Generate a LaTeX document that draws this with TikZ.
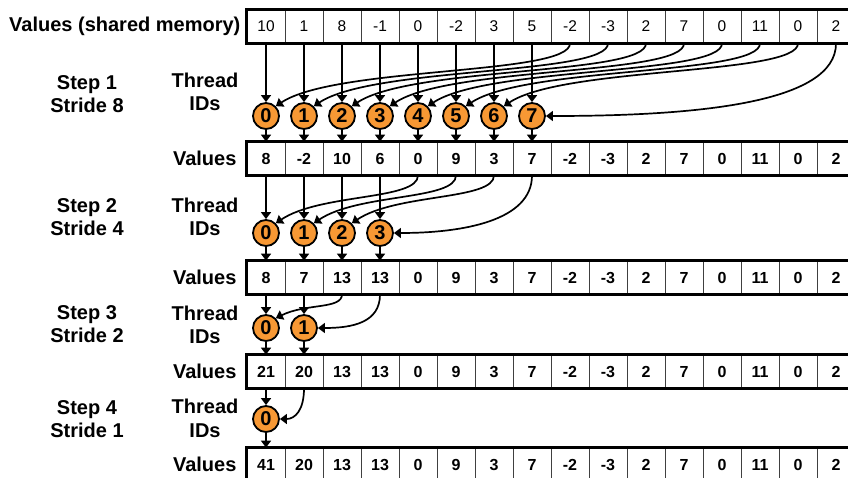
\documentclass[tikz,border=0pt]{standalone}
\usepackage{fontspec}
\setmainfont{Liberation Sans}
\usepackage{xcolor}
\usepackage{tikz}
\usetikzlibrary{arrows.meta, positioning}

\definecolor{thrd}{RGB}{247,152,52}

\begin{document}
\begin{tikzpicture}[
        x=1pt, y=-1pt,
        cell/.style={rectangle, draw=black!75, line width=0.8pt, minimum width=38pt, minimum height=33pt, inner sep=0pt, font=\fontsize{16}{16}\selectfont\bfseries},
        mem/.style={cell, font=\fontsize{15.5}{16}\selectfont},
        rowframe/.style={line width=2.6pt},
        thread/.style={circle, draw=black, line width=1.8pt, fill=thrd, minimum size=26pt, inner sep=0pt, font=\fontsize{20}{20}\selectfont\bfseries},
        txt/.style={font=\fontsize{20}{23.5}\selectfont\bfseries, align=center, inner sep=0pt},
        arrow/.style={-{Triangle[length=7pt, width=10pt]}, line width=1.7pt}
    ]
        \useasboundingbox (0,0) rectangle (848,477);

        % Value rows
        \foreach \v [count=\i from 0] in {10,1,8,-1,0,-2,3,5,-2,-3,2,7,0,11,0,2}
            \node[mem] (v0-\i) at (266+38*\i, 26.5) {\v};
        \foreach \v [count=\i from 0] in {8,-2,10,6,0,9,3,7,-2,-3,2,7,0,11,0,2}
            \node[cell] (v1-\i) at (266+38*\i, 158.5) {\v};
        \foreach \v [count=\i from 0] in {8,7,13,13,0,9,3,7,-2,-3,2,7,0,11,0,2}
            \node[cell] (v2-\i) at (266+38*\i, 277.5) {\v};
        \foreach \v [count=\i from 0] in {21,20,13,13,0,9,3,7,-2,-3,2,7,0,11,0,2}
            \node[cell] (v3-\i) at (266+38*\i, 371.5) {\v};
        \foreach \v [count=\i from 0] in {41,20,13,13,0,9,3,7,-2,-3,2,7,0,11,0,2}
            \node[cell] (v4-\i) at (266+38*\i, 464.5) {\v};
        \foreach \r in {0,...,4}
            \draw[rowframe] (v\r-0.north west) rectangle (v\r-15.south east);

        % Thread IDs
        \foreach \i in {0,...,7}
            \node[thread] (t1-\i) at (266+38*\i, 116) {\i};
        \foreach \i in {0,...,3}
            \node[thread] (t2-\i) at (266+38*\i, 233) {\i};
        \foreach \i in {0,1}
            \node[thread] (t3-\i) at (266+38*\i, 328) {\i};
        \node[thread] (t4-0) at (266, 419) {0};

        % Labels
        \node[txt, left=6pt of v0-0] (mlab) {Values (shared memory)};
        \foreach \r in {1,...,4}
            \node[txt, left=10pt of v\r-0] (vlab\r) {Values};
        \node[txt] (step1) at (87, 94) {Step 1\\Stride 8};
        \node[txt] (step2) at (87, 217) {Step 2\\Stride 4};
        \node[txt] (step3) at (87, 324) {Step 3\\Stride 2};
        \node[txt] (step4) at (87, 419) {Step 4\\Stride 1};
        \node[txt] (tid1) at (205, 92) {Thread\\IDs};
        \node[txt] (tid2) at (205, 217) {Thread\\IDs};
        \node[txt] (tid3) at (205, 325) {Thread\\IDs};
        \node[txt] (tid4) at (205, 418.5) {Thread\\IDs};

        % Step 1
        \foreach \i in {0,...,7}
            \draw[arrow] (v0-\i.south) -- (t1-\i.north);
        \foreach \i [evaluate=\i as \j using int(\i+8)] in {0,...,6}
            \draw[arrow] (v0-\j.south) .. controls +(0,32) and +(60,-40) .. (t1-\i.north east);
        \draw[arrow] (v0-15.south) .. controls +(0,60) and +(150,0) .. (t1-7.east);
        \foreach \i in {0,...,7}
            \draw[arrow] (t1-\i.south) -- (v1-\i.north);

        % Step 2
        \foreach \i in {0,...,3}
            \draw[arrow] (v1-\i.south) -- (t2-\i.north);
        \foreach \i [evaluate=\i as \j using int(\i+4)] in {0,...,2}
            \draw[arrow] (v1-\j.south) .. controls +(0,25) and +(45,-30) .. (t2-\i.north east);
        \draw[arrow] (v1-7.south) .. controls +(0,45) and +(70,0) .. (t2-3.east);
        \foreach \i in {0,...,3}
            \draw[arrow] (t2-\i.south) -- (v2-\i.north);

        % Step 3
        \foreach \i in {0,1}
            \draw[arrow] (v2-\i.south) -- (t3-\i.north);
        \draw[arrow] (v2-2.south) .. controls +(0,15) and +(30,-15) .. (t3-0.north east);
        \draw[arrow] (v2-3.south) .. controls +(0,28) and +(35,0) .. (t3-1.east);
        \foreach \i in {0,1}
            \draw[arrow] (t3-\i.south) -- (v3-\i.north);

        % Step 4
        \draw[arrow] (v3-0.south) -- (t4-0.north);
        \draw[arrow] (v3-1.south) .. controls +(0,22) and +(15,0) .. (t4-0.east);
        \draw[arrow] (t4-0.south) -- (v4-0.north);

\end{tikzpicture}
\end{document}
